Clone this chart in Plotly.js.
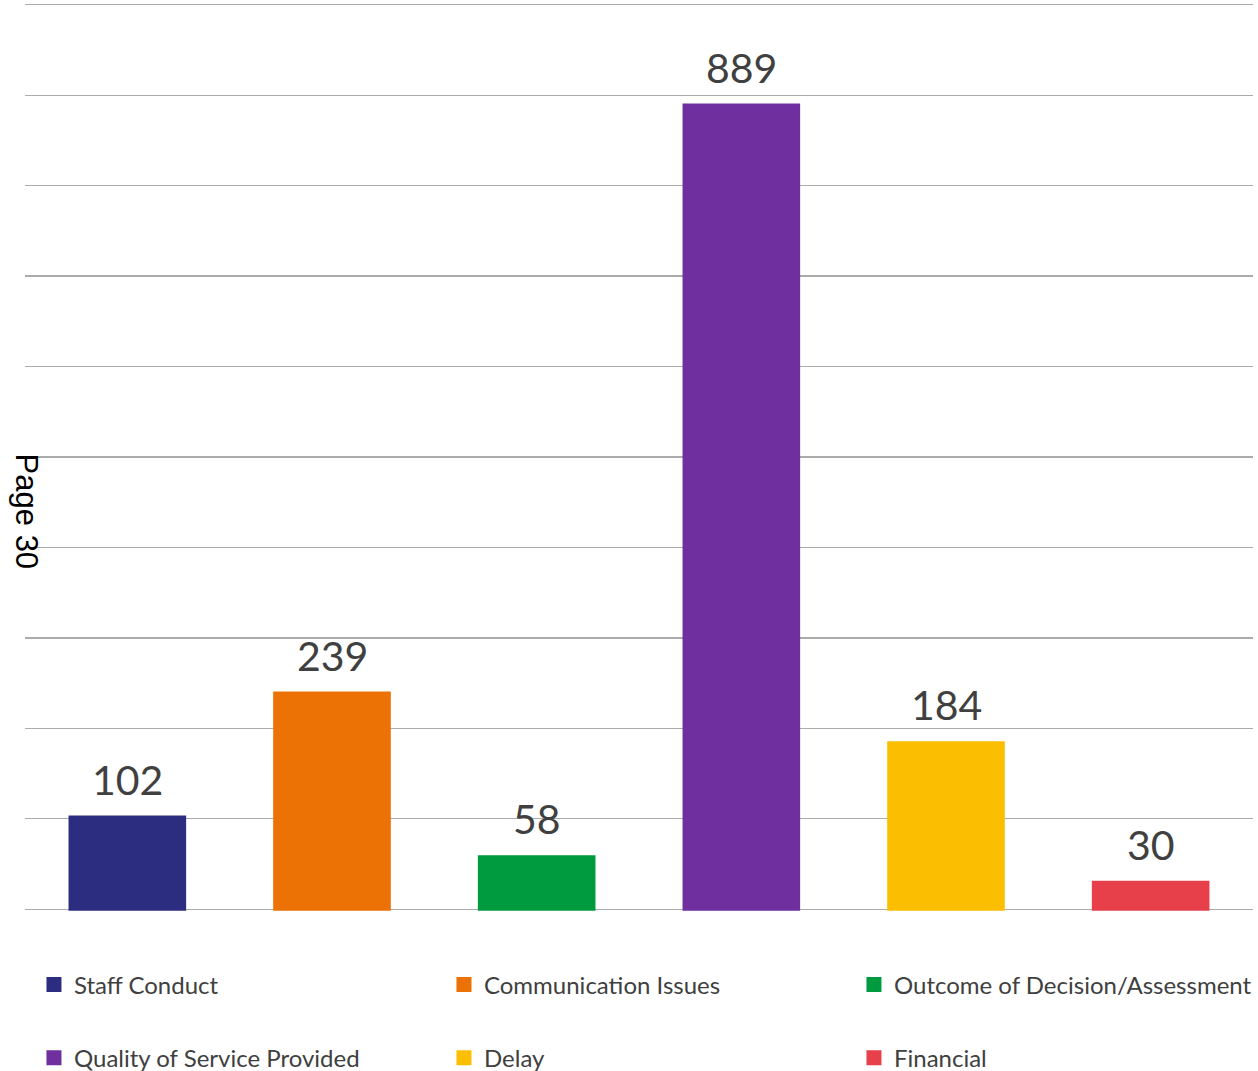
<!DOCTYPE html>
<html>
<head>
<meta charset="utf-8">
<script src="https://cdn.plot.ly/plotly-3.0.1.min.js"></script>
<style>html,body{margin:0;padding:0;background:#fff;}</style>
</head>
<body>
<div id="chart" style="width:1258px;height:1071px;"></div>
<script>
const categories = ["Staff Conduct", "Communication Issues", "Outcome of Decision/Assessment", "Quality of Service Provided", "Delay", "Financial"];
const values = [102, 239, 58, 889, 184, 30];
const colors = ["#2C2D80", "#EC7205", "#009B3F", "#6F2F9F", "#FCBE00", "#E8404B"];
const legendGroups = ["legend", "legend", "legend", "legend2", "legend2", "legend2"];

const traces = categories.map((c, i) => ({
  type: "bar",
  name: c,
  x: [c],
  y: [values[i]],
  marker: {color: colors[i], line: {color: colors[i], width: 3}},
  legend: legendGroups[i],
  hoverinfo: "x+y"
}));

const labelAnnotations = categories.map((c, i) => ({
  x: c,
  y: values[i],
  xref: "x", yref: "y",
  text: String(values[i]),
  showarrow: false,
  xanchor: "center",
  yanchor: "middle",
  yshift: 38,
  font: {family: "Lato, sans-serif", size: 41, color: "#404040"}
}));

const legendCommon = {
  orientation: "h",
  xref: "container",
  yref: "container",
  xanchor: "left",
  yanchor: "middle",
  x: 0.027,
  font: {family: "Lato, sans-serif", size: 24, color: "#404040"},
  entrywidth: 365,
  entrywidthmode: "pixels",
  bgcolor: "rgba(0,0,0,0)",
  itemclick: false
};

const layout = {
  width: 1258,
  height: 1071,
  margin: {l: 25, r: 5, t: 2, b: 159},
  paper_bgcolor: "#ffffff",
  plot_bgcolor: "#ffffff",
  barmode: "overlay",
  bargap: 0.44,
  showlegend: true,
  xaxis: {
    type: "category",
    categoryarray: categories,
    showticklabels: false,
    showgrid: false,
    zeroline: false,
    showline: false,
    ticks: ""
  },
  yaxis: {
    range: [-3, 1003],
    dtick: 100,
    tick0: 0,
    showticklabels: false,
    showgrid: true,
    gridcolor: "#ABABAB",
    gridwidth: 1.3,
    zeroline: false,
    showline: false,
    ticks: ""
  },
  legend: Object.assign({}, legendCommon, {y: 0.0803}),
  legend2: Object.assign({}, legendCommon, {y: 0.0121}),
  annotations: labelAnnotations.concat([{
    text: "Page 30",
    xref: "paper", yref: "paper",
    x: 0.0008, y: 0.44,
    xanchor: "center", yanchor: "middle",
    textangle: 90,
    showarrow: false,
    font: {family: "Liberation Sans, Arial, sans-serif", size: 31, color: "#000000"}
  }])
};

Plotly.newPlot("chart", traces, layout, {displayModeBar: false, staticPlot: true});
</script>
</body>
</html>
